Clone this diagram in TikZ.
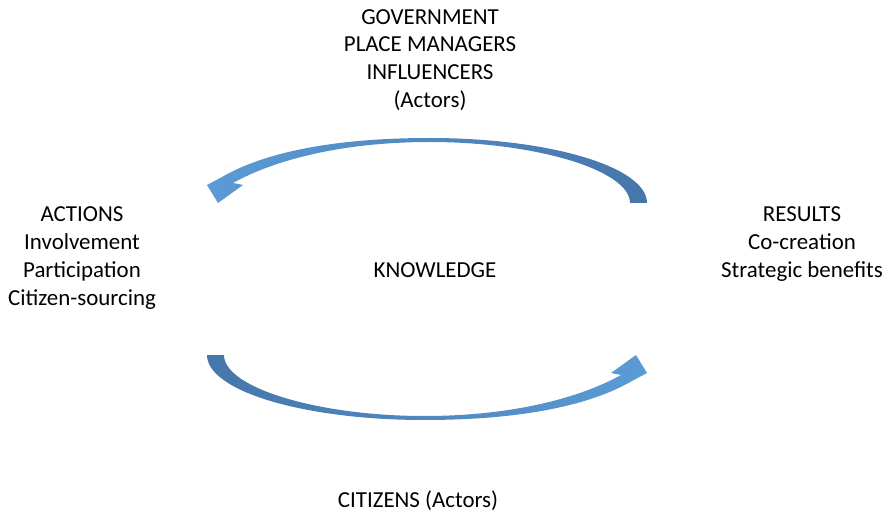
\documentclass[tikz,border=0pt]{standalone}
\usepackage{fontspec}
\setmainfont{Carlito}
\begin{document}
\begin{tikzpicture}[x=1bp,y=-1bp,
  label text/.style={align=center,font=\fontsize{23}{28}\selectfont,inner sep=0pt},
  cycle arrow/.style={draw=none}]
\useasboundingbox (0,0) rectangle (890,513);
\definecolor{arrowlight}{HTML}{5B9BD5}
\definecolor{arrowdark}{HTML}{4676AA}

% actors above
\node[label text] (gov) at (430,60) {GOVERNMENT\\PLACE MANAGERS\\INFLUENCERS\\(Actors)};
% actions on the left
\node[label text] (actions) at (82,258) {ACTIONS\\Involvement\\Participation\\Citizen-sourcing};
% results on the right
\node[label text] (results) at (802,244) {RESULTS\\Co-creation\\Strategic benefits};
% centre
\node[label text] (knowledge) at (435,270) {KNOWLEDGE};
% actors below
\node[label text] (citizens) at (418,501) {CITIZENS (Actors)};

% upper curved arrow, from results back to actions
\shade[cycle arrow,left color=arrowlight,right color=arrowdark]
  (647,203) .. controls (647,167) and (550,138) .. (430,138)
  .. controls (335,138) and (265,152) .. (222,177)
  -- (207,185) -- (218,203) -- (243,185) -- (233,183)
  .. controls (265,165) and (330,142) .. (430,142)
  .. controls (535,142) and (630,170) .. (630,203) -- cycle;

% lower curved arrow, from actions to results
\shade[cycle arrow,left color=arrowdark,right color=arrowlight]
  (207,355) .. controls (207,391) and (304,420) .. (424,420)
  .. controls (519,420) and (589,406) .. (632,381)
  -- (647,373) -- (636,355) -- (611,373) -- (621,375)
  .. controls (589,393) and (524,416) .. (424,416)
  .. controls (319,416) and (224,388) .. (224,355) -- cycle;
\end{tikzpicture}
\end{document}
